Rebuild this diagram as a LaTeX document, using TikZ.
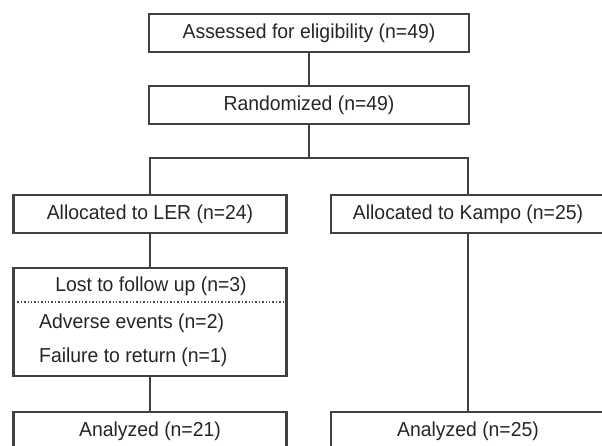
\documentclass[tikz,border=0pt]{standalone}
\usepackage{fontspec}
\setmainfont{Liberation Sans}[FakeStretch=0.96]
\begin{document}
\begin{tikzpicture}[x=1pt,y=-1pt,
  boxline/.style={draw=black!75, line width=2.8pt},
  flowbox/.style={boxline, rectangle, inner sep=0pt, minimum width=273pt, minimum height=38pt,
    font=\fontsize{20.2}{24}\selectfont, text=black!85},
  plaintext/.style={inner sep=0pt, font=\fontsize{20.2}{24}\selectfont, text=black!85},
  conn/.style={draw=black!75, line width=2.8pt}]
\useasboundingbox (0,0) rectangle (602,445);
\clip (0,0) rectangle (602,445);
\fill[white] (0,0) rectangle (602,445);

\node[flowbox, minimum width=320pt] (assess) at (309,33) {Assessed for eligibility (n=49)};
\node[flowbox, minimum width=320pt] (rand) at (309,105) {Randomized (n=49)};
\node[flowbox] (ler) at (150,214) {Allocated to LER (n=24)};
\node[flowbox, minimum width=274pt] (kampo) at (468,214) {Allocated to Kampo (n=25)};
\node[flowbox, minimum height=108pt] (lost) at (150,322) {};
\node[plaintext] (losttitle) at (151,286) {Lost to follow up (n=3)};
\node[plaintext, anchor=west] (adverse) at (39,323) {Adverse events (n=2)};
\node[plaintext, anchor=west] (failure) at (39,357) {Failure to return (n=1)};
\node[flowbox] (anaL) at (150,431) {Analyzed (n=21)};
\node[flowbox, minimum width=274pt] (anaR) at (468,431) {Analyzed (n=25)};

\coordinate (split) at (309,158);
\coordinate (dotL) at (14,302);
\coordinate (dotR) at (285,302);

\draw[black!70, line width=1.4pt, dotted] (dotL) -- (dotR);

\draw[conn] (assess) -- (rand);
\draw[conn] (rand) -- (split);
\draw[conn] (split) -| (ler);
\draw[conn] (split) -| (kampo);
\draw[conn] (ler) -- (lost);
\draw[conn] (lost) -- (anaL);
\draw[conn] (kampo) -- (anaR);
\end{tikzpicture}
\end{document}
